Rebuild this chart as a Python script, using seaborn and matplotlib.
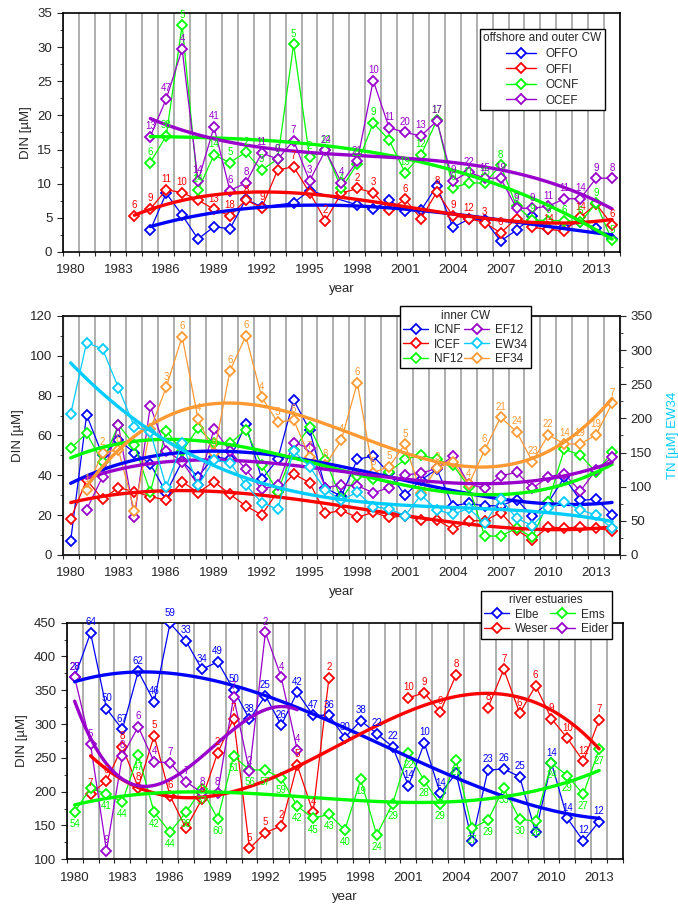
import numpy as np
import matplotlib
matplotlib.use("Agg")
import matplotlib.pyplot as plt
from matplotlib.lines import Line2D
from matplotlib.ticker import MultipleLocator
import seaborn as sns

nan = np.nan

# ---------------- top panel: offshore and outer CW (DIN, uM)
yrs_top = list(range(1984, 2015))
offo = [nan, 3.2, 8.6, 5.4, 1.9, 3.7, 3.4, 7.7, 6.6, nan, 7.2, 9.0, nan, nan, 6.9, 6.25,
        7.6, 6.0, 6.1, 9.7, 3.6, 4.8, 4.7, 1.6, 3.2, 5.2, 3.3, 3.7, 4.4, 3.5, 1.9]
offi = [5.3, 6.3, 9.1, 8.7, 7.6, 6.25, 5.3, 7.6, 6.5, 12.0, 12.5, 8.7, 4.6, 8.6, 9.3, 8.7,
        6.15, 7.7, 4.9, 8.8, 5.3, 4.9, 4.3, 2.8, 4.9, 3.6, 3.3, 3.1, 5.1, 7.0, 4.0]
ocnf = [nan, 13.1, 17.0, 33.2, 9.1, 14.2, 13.1, 14.6, 12.0, 13.6, 30.4, 13.9, 14.9, 9.3, 12.9, 18.9,
        16.4, 11.6, 14.2, 19.3, 9.4, 10.1, 10.1, 12.7, 6.7, 4.7, 4.6, 4.6, 4.4, 7.1, 1.7]
ocef = [nan, 16.9, 22.4, 29.7, 10.4, 18.3, 9.0, 10.1, 14.5, 13.6, 16.3, 10.4, 14.9, 10.1, 13.3, 25.1,
        18.2, 17.5, 17.0, 19.2, 10.4, 11.7, 10.8, 10.8, 6.4, 6.4, 6.7, 7.8, 7.8, 10.8, 10.8]
lab_offi = [6, 9, 11, 10, None, 13, 18, 8, 9, None, 7, None, 2, None, 2, 3,
            None, 6, None, 8, 9, 12, 3, 6, None, None, 14, None, 14, None, 6]
lab_ocnf = [None, 6, 38, 5, 14, 14, 5, 2, 3, 9, 5, 2, 12, 4, 21, 9,
            None, 19, 12, 17, 9, 11, 15, 8, 9, 9, 6, 6, 6, 9, 5]
lab_ocef = [None, 13, 47, 4, 14, 41, 6, 8, 11, 9, 7, 3, 24, 4, 21, 10,
            11, 20, 13, 17, 9, 22, 15, 19, 9, 9, 11, 11, 14, 9, 8]

# ---------------- middle panel: inner CW (DIN, uM; EW34 = TN on right axis)
yrs_mid = list(range(1980, 2015))
icnf = [7.2, 70.3, 50.0, 57.7, 51.4, 45.7, 31.3, 47.0, 39.3, 49.4, 48.0, 65.6, 38.0, 48.0, 77.8, 62.8, 33.5,
        29.6, 48.0, 49.7, 41.0, 30.0, 37.7, 43.0, 24.7, 26.0, 24.7, 24.7, 27.8, 19.5, 26.4, 39.0, 27.4, 28.0, 20.2]
icef = [18.1, 37.7, 28.1, 33.8, 31.8, 29.3, 27.6, 36.8, 31.3, 36.8, 30.5, 24.6, 20.1, 31.8, 40.7, 36.3, 20.9,
        22.3, 18.9, 21.4, 18.9, 19.6, 17.6, 17.6, 12.9, 17.2, 17.2, 21.3, 12.6, 7.5, 14.2, 13.4, 14.2, 13.4, 12.1]
nf12 = [53.6, 61.1, 46.5, 65.3, 55.2, 31.5, 62.4, 52.0, 63.6, 56.0, 56.0, 62.8, 45.2, 31.8, 52.7, 64.4, 47.7,
        28.0, 39.7, 38.2, 41.8, 48.0, 50.2, 48.0, 45.2, 34.3, 9.5, 9.5, 13.4, 8.9, 26.8, 53.0, 50.2, 41.5, 51.5]
ef12 = [nan, 22.8, 39.3, 65.3, 18.9, 74.8, 52.4, 46.9, 35.1, 63.1, 52.2, 43.0, 33.0, 35.1, 56.4, 53.6, 33.8,
        35.1, 34.8, 31.2, 33.8, 40.2, 41.0, 43.5, 49.7, 35.5, 33.5, 39.7, 41.5, 33.5, 39.3, 40.7, 32.1, 42.7, 49.0]
ew34_tn = [206.5, 311, 301.6, 245, 187.5, 180.5, 100, 163.3, 102, 139, 135.3, 102.4, 76.7, 66.8, 152.8, 129.5, 95,
           80.5, 91.7, 70.8, 67.3, 57.6, 87.8, 65.9, 59.5, 68.3, 46.4, 82, 53.7, 42.9, 68.3, 78, 65.9, 58.6, 39]
ef34 = [nan, 32.6, 51.4, 52.7, 22.3, 63.1, 84.2, 109.6, 68.3, 51.0, 92.4, 110.0, 79.2, 66.6, 67.8, 49.4, 45.2,
        57.7, 86.5, 41.3, 44.4, 55.6, 31.3, 43.8, 46.5, 35.5, 52.7, 69.1, 61.9, 46.9, 60.3, 55.7, 55.7, 60.3, 76.2]
lab_ef34 = [None, 1, 2, 6, None, None, 3, 6, 4, 9, 6, 6, 4, 5, 6, 7, 8,
            4, 6, 5, 5, 5, None, 3, None, 4, 6, 21, 24, 23, 22, 14, 19, 19, 7]

# ---------------- bottom panel: river estuaries (DIN, uM)
yrs_bot = list(range(1980, 2014))
elbe = [369, 435, 323, 292, 378, 333, 449, 423, 381, 392, 351, 307, 342, 298.5, 347, 313, 313,
        280, 305, 286, 266.5, 209, 272, 197.5, 227, 127, 232, 233.5, 222, 140, 242, 160.6, 127, 155.7]
weser = [nan, 196.5, 215.8, 266.5, 206, 282.8, 194, 145.8, 188.7, 257.6, 308, 116, 139.4, 149.3, 239.4, 169.5, 368.5,
         nan, nan, nan, nan, 339, 346, 318, 373, nan, 324, 381, 316, 356.6, 308, 279, 245, 306]
ems = [170.4, 205, 196.5, 185, 254, 169.5, 140, 169.5, 204, 159.6, 252.7, 232, 232, 219.7, 178.8, 160.6, 166.5,
       143.3, 218, 136, 181.8, 257.6, 215.8, 181.3, 246.8, 145.8, 158, 205, 159, 156.7, 242, 223.6, 196, 263]
yrs_eider = list(range(1980, 1995))
eider = [369, 270, 112.8, 253, 296, 244, 243, 214.8, 198.5, 198.5, 340, 230, 435.5, 369, 262]
lab_elbe = [28, 64, 50, 67, 62, 46, 59, 33, 34, 49, 50, 38, 25, 26, 42, 47, 36,
            30, 38, 22, 22, 14, 10, 14, None, None, 23, 26, 25, None, 14, 14, 12, 12]
lab_weser = [None, 7, 6, 8, 8, 5, 6, None, 5, 2, 7, 5, 5, 2, 5, 4, 2,
             None, None, None, None, 10, 9, 9, 8, None, 8, 7, 6, 6, 9, 10, 12, 7]
lab_ems = [54, None, 41, 44, 47, 42, 44, 38, 37, 60, 51, 56, 57, 59, 42, 45, 43,
           40, 19, 24, 29, 22, 28, 29, 27, 27, 29, 33, 30, 26, 24, 29, 27, 27]
lab_eider = [27, 5, 9, 8, 6, 4, 7, 7, 8, 8, 7, 2, 2, 4, 4]

BLUE, RED, GREEN, PURPLE = "#0000FF", "#FF0000", "#00FF00", "#9900CC"
CYAN, ORANGE = "#00CCFF", "#FF9933"

sns.set_style("ticks")
plt.rcParams["font.family"] = ["Liberation Sans", "DejaVu Sans"]


def draw(ax, yrs, vals, labs, col, below=False, connect=True):
    x = np.array(yrs, float)
    y = np.array(vals, float)
    m = ~np.isnan(y)
    style = dict(color=col, lw=0.9, marker="D", ms=5, mfc="white", mec=col, mew=1.3, zorder=3)
    if connect:
        ax.plot(x[m], y[m], **style)
    else:
        ax.plot(x, y, **style)
    # polynomial trendline
    sns.regplot(x=x[m], y=y[m], order=3, ci=None, scatter=False, truncate=True, ax=ax,
                line_kws=dict(color=col, lw=2.4, zorder=4))
    if labs is None:
        return
    for xi, yi, lab in zip(x, y, labs):
        if lab is None or np.isnan(yi):
            continue
        ax.annotate(str(lab), (xi, yi), xytext=(0, -5 if below else 4), textcoords="offset points",
                    ha="center", va="top" if below else "bottom", fontsize=7, color=col, zorder=5)


def style_axes(ax, ystep):
    ax.set_xlim(1979.5, 2014.5)
    ax.set_xticks(np.arange(1980, 2014, 3))
    ax.set_xticks(np.arange(1979.5, 2015, 1), minor=True)
    ax.tick_params(axis="x", which="major", length=0, labelsize=9.5, pad=9)
    ax.tick_params(axis="x", which="minor", length=3, width=0.8, direction="out")
    ax.grid(axis="x", which="minor", color="#a8a8a8", lw=1.3)
    ax.grid(axis="y", visible=False)
    ax.yaxis.set_major_locator(MultipleLocator(ystep))
    ax.yaxis.set_minor_locator(MultipleLocator(ystep / 2))
    ax.tick_params(axis="y", which="major", length=4, labelsize=9.5, direction="out")
    ax.tick_params(axis="y", which="minor", length=2.5, direction="out")
    for s in ax.spines.values():
        s.set_visible(True)
        s.set_color("black")
        s.set_linewidth(1.2)
    ax.set_xlabel("year", fontsize=9.5, labelpad=5)
    ax.set_ylabel("DIN [µM]", fontsize=9.5, labelpad=4)


def handle(col):
    return Line2D([], [], color=col, lw=1.0, marker="D", ms=5, mfc="white", mec=col, mew=1.3)


leg_kw = dict(fontsize=8.5, title_fontsize=8.5, frameon=True, fancybox=False, edgecolor="black",
              framealpha=1, borderpad=0.3)

fig = plt.figure(figsize=(6.78, 9.11), dpi=100)

# top
ax1 = fig.add_axes([0.0925, 0.7234, 0.822, 0.2624])
draw(ax1, yrs_top, offo, None, BLUE)
draw(ax1, yrs_top, offi, lab_offi, RED)
draw(ax1, yrs_top, ocnf, lab_ocnf, GREEN)
draw(ax1, yrs_top, ocef, lab_ocef, PURPLE)
style_axes(ax1, 5)
ax1.set_ylim(0, 35)
leg = ax1.legend([handle(c) for c in (BLUE, RED, GREEN, PURPLE)], ["OFFO", "OFFI", "OCNF", "OCEF"],
                 title="offshore and outer CW", loc="upper right", bbox_to_anchor=(0.984, 0.958),
                 labelspacing=0.3, handlelength=2.6, **leg_kw)
leg.get_frame().set_linewidth(1.0)

# middle
ax2 = fig.add_axes([0.0925, 0.3908, 0.822, 0.2624])
ax2r = ax2.twinx()
draw(ax2, yrs_mid, icnf, None, BLUE)
draw(ax2, yrs_mid, icef, None, RED)
draw(ax2, yrs_mid, nf12, None, GREEN)
draw(ax2, yrs_mid, ef12, None, PURPLE)
draw(ax2, yrs_mid, ef34, lab_ef34, ORANGE)
draw(ax2r, yrs_mid, ew34_tn, None, CYAN)
style_axes(ax2, 20)
ax2.set_ylim(0, 120)
ax2r.set_ylim(0, 350)
ax2r.yaxis.set_major_locator(MultipleLocator(50))
ax2r.yaxis.set_minor_locator(MultipleLocator(25))
ax2r.tick_params(axis="y", which="major", length=4, labelsize=9.5, direction="out")
ax2r.tick_params(axis="y", which="minor", length=2.5, direction="out")
ax2r.set_ylabel("TN [µM] EW34", color=CYAN, fontsize=9.5, labelpad=10)
ax2r.set_xlabel("")
ax2r.grid(False)
leg = ax2r.legend([handle(c) for c in (BLUE, RED, GREEN, PURPLE, CYAN, ORANGE)],
                  ["ICNF", "ICEF", "NF12", "EF12", "EW34", "EF34"], ncol=2,
                  title="inner CW", loc="upper right", bbox_to_anchor=(0.85, 1.065),
                  labelspacing=0.2, handlelength=2.1, columnspacing=0.1, handletextpad=0.5, **leg_kw)
leg.get_frame().set_linewidth(1.0)

# bottom
ax3 = fig.add_axes([0.0984, 0.0568, 0.8205, 0.2597])
draw(ax3, yrs_bot, elbe, lab_elbe, BLUE)
draw(ax3, yrs_bot, weser, lab_weser, RED, connect=False)
draw(ax3, yrs_bot, ems, lab_ems, GREEN, below=True)
draw(ax3, yrs_eider, eider, lab_eider, PURPLE)
style_axes(ax3, 50)
ax3.set_ylim(100, 450)
leg = ax3.legend([handle(c) for c in (BLUE, RED, GREEN, PURPLE)], ["Elbe", "Weser", "Ems", "Eider"], ncol=2,
                 title="river estuaries", loc="upper right", bbox_to_anchor=(0.99, 1.16),
                 labelspacing=0.2, handlelength=2.1, columnspacing=0.1, handletextpad=0.5, **leg_kw)
leg.get_frame().set_linewidth(1.0)

fig.savefig("out.png", dpi=100)
